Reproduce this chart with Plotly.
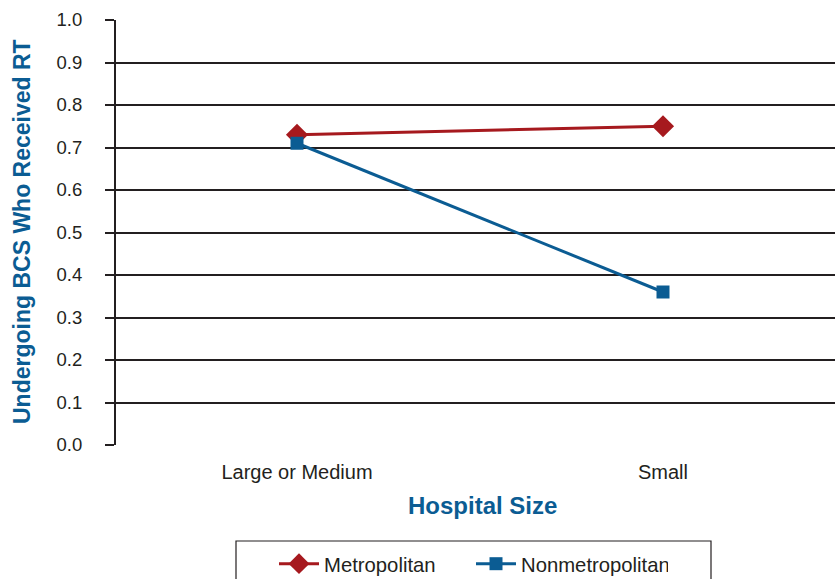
import plotly.graph_objects as go

# Proportion of BCS patients who received RT, by hospital size
hospital_size = ["Large or Medium", "Small"]
metropolitan = [0.73, 0.75]
nonmetropolitan = [0.71, 0.36]
y_ticks = [0.0, 0.1, 0.2, 0.3, 0.4, 0.5, 0.6, 0.7, 0.8, 0.9, 1.0]

RED = "#a6191e"
BLUE = "#0b5c93"
INK = "#231f20"
FONT = "Liberation Sans, Arial, sans-serif"

fig = go.Figure()
fig.add_trace(go.Scatter(
    x=hospital_size, y=metropolitan, name="Metropolitan",
    mode="lines+markers",
    line=dict(color=RED, width=3),
    marker=dict(symbol="diamond", size=17, color=RED),
))
fig.add_trace(go.Scatter(
    x=hospital_size, y=nonmetropolitan, name="Nonmetropolitan",
    mode="lines+markers",
    line=dict(color=BLUE, width=3),
    marker=dict(symbol="square", size=13, color=BLUE),
))

# Legend frame, open at the bottom edge of the page
fig.add_shape(type="rect", xref="paper", yref="paper",
              x0=(236 - 116) / 719, x1=(711 - 116) / 719,
              y0=-0.40, y1=(445 - 541) / 425,
              line=dict(color=INK, width=1.2), fillcolor="rgba(0,0,0,0)")

fig.add_annotation(text="<b>Hospital Size</b>", xref="paper", yref="paper",
                   x=(482 - 116) / 719, y=(445 - 505) / 425,
                   showarrow=False, xanchor="center", yanchor="middle",
                   font=dict(family=FONT, size=24, color=BLUE))
fig.add_annotation(text="<b>Undergoing BCS Who Received RT</b>",
                   xref="paper", yref="paper",
                   x=(22 - 116) / 719, y=(445 - 232) / 425,
                   textangle=-90, showarrow=False,
                   xanchor="center", yanchor="middle",
                   font=dict(family=FONT, size=23, color=BLUE))

fig.update_layout(
    width=835, height=579,
    margin=dict(l=116, r=0, t=20, b=134, autoexpand=False),
    paper_bgcolor="white", plot_bgcolor="white",
    font=dict(family=FONT, color=INK),
    showlegend=True,
    legend=dict(orientation="h", x=(274 - 116) / 719, y=(445 - 544) / 425,
                xanchor="left", yanchor="top",
                font=dict(family=FONT, size=20.3, color=INK),
                itemwidth=40, entrywidth=142, bgcolor="rgba(0,0,0,0)"),
    xaxis=dict(
        type="category", range=[-181 / 366, (719 - 181) / 366],
        showgrid=False, zeroline=False, showline=False, ticks="",
        tickfont=dict(family=FONT, size=20, color=INK),
        ticklabelstandoff=13, automargin=False,
    ),
    yaxis=dict(
        range=[0, 1], tickvals=y_ticks,
        ticktext=[f"{v:.1f}" for v in y_ticks],
        showgrid=True, gridcolor=INK, gridwidth=2,
        zeroline=False, showline=True, linecolor=INK, linewidth=2,
        ticks="outside", ticklen=9, tickwidth=2, tickcolor=INK,
        tickfont=dict(family=FONT, size=18.5, color=INK),
        ticklabelstandoff=19, automargin=False,
    ),
)

fig.write_html("out.html")
